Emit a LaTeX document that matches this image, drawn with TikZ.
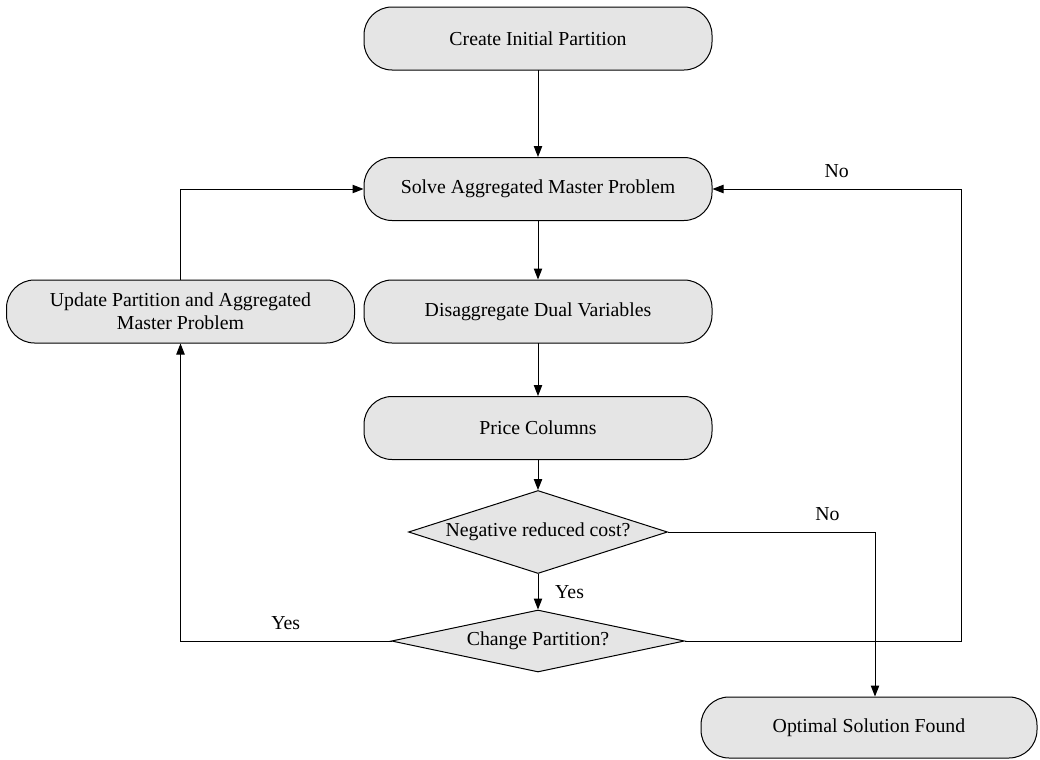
\documentclass[tikz,border=0pt]{standalone}
\usepackage{fontspec}
\setmainfont{Liberation Serif}
\usetikzlibrary{shapes.geometric,arrows.meta}
\begin{document}
\begin{tikzpicture}[x=0.5pt,y=-0.5pt,line cap=rect,
  procbox/.style={draw=custcol_0_0_0, fill=custcol_e5_e5_e5, line width=0.5pt, rounded corners=14pt, minimum width=174pt, minimum height=31.5pt, inner sep=0, align=center, font=\diagfont},
  decbox/.style={draw=custcol_0_0_0, fill=custcol_e5_e5_e5, line width=0.5pt, shape=diamond, inner sep=0, font=\diagfont},
  flow/.style={draw=custcol_0_0_0, line width=0.5pt, -{Triangle[length=5.5pt,width=4.2pt]}},
  answer/.style={font=\diagfont, text=custcol_0_0_0}]
\def\diagfont{\fontsize{9.9pt}{11.5pt}\selectfont}
\definecolor{custcol_0_0_0}{RGB}{0, 0, 0}
\definecolor{custcol_e5_e5_e5}{RGB}{229, 229, 229}
\useasboundingbox (0,0) rectangle (1040,760);
\node[procbox] (create) at (538.0,38.5) {Create Initial Partition};
\node[procbox] (solve) at (538.0,189.0) {Solve Aggregated Master Problem};
\node[procbox] (disagg) at (538.0,311.5) {Disaggregate Dual Variables};
\node[procbox] (update) at (180.5,311.5) {Update Partition and Aggregated\\Master Problem};
\node[procbox] (price) at (538.0,428.0) {Price Columns};
\node[decbox, aspect=3.1, minimum width=129.5pt, minimum height=41.5pt] (negcost) at (538.0,532.0) {Negative reduced cost?};
\node[decbox, aspect=4.7, minimum width=146.5pt, minimum height=31pt] (changep) at (538.0,641.0) {Change Partition?};
\node[procbox, minimum width=168pt, minimum height=30.5pt] (optimal) at (869.0,727.5) {Optimal Solution Found};
\coordinate (noturn) at (875.0,532.0);
\coordinate (rightturn) at (961.0,641.0);
\draw[flow] (create) -- (solve);
\draw[flow] (solve) -- (disagg);
\draw[flow] (disagg) -- (price);
\draw[flow] (price) -- (negcost);
\draw[flow] (negcost) -- node[answer, midway, right=5pt] {Yes} (changep);
\draw[flow] (negcost.east) -- node[answer, pos=0.77, above=2pt] {No} (noturn) -- (noturn |- optimal.north);
\draw[flow] (changep.east) -- (rightturn) -- (rightturn |- solve) -- node[answer, midway, above=2pt] {No} (solve.east);
\draw[flow] (changep.west) -| node[answer, pos=0.25, above=2pt] {Yes} (update.south);
\draw[flow] (update.north) |- (solve.west);
\end{tikzpicture}
\end{document}
